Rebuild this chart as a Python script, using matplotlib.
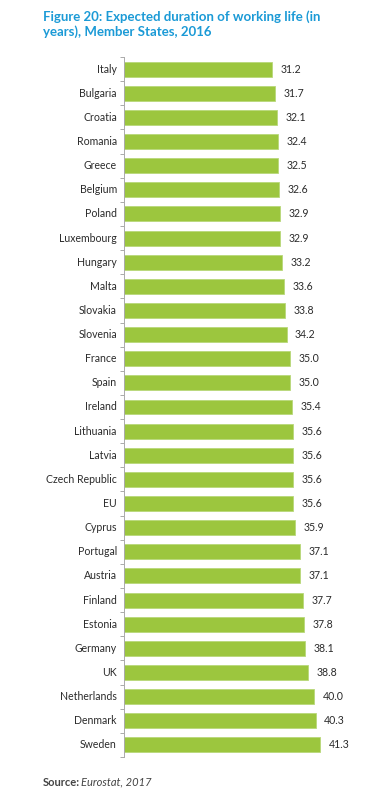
import matplotlib.pyplot as plt
import numpy as np

# data (top to bottom)
countries = ['Italy', 'Bulgaria', 'Croatia', 'Romania', 'Greece', 'Belgium',
             'Poland', 'Luxembourg', 'Hungary', 'Malta', 'Slovakia', 'Slovenia',
             'France', 'Spain', 'Ireland', 'Lithuania', 'Latvia', 'Czech Republic',
             'EU', 'Cyprus', 'Portugal', 'Austria', 'Finland', 'Estonia',
             'Germany', 'UK', 'Netherlands', 'Denmark', 'Sweden']
years = [31.2, 31.7, 32.1, 32.4, 32.5, 32.6, 32.9, 32.9, 33.2, 33.6, 33.8, 34.2,
         35.0, 35.0, 35.4, 35.6, 35.6, 35.6, 35.6, 35.9, 37.1, 37.1, 37.7, 37.8,
         38.1, 38.8, 40.0, 40.3, 41.3]

plt.rcParams['font.family'] = ['Lato', 'DejaVu Sans']

fig = plt.figure(figsize=(3.87, 8.06), dpi=100)
ax = fig.add_axes([124 / 387, 1 - 757 / 806, 230 / 387, 700 / 806])

pos = np.arange(len(countries))
ax.barh(pos, years, height=0.62, color='#9cc63e', edgecolor='#b8d87a', linewidth=0.6)

for p, v in zip(pos, years):
    ax.text(v + 1.8, p, f'{v:.1f}', va='center', ha='left', fontsize=7.6, color='#2b2b2b')

ax.set_ylim(len(countries) - 0.5, -0.5)
ax.set_xlim(0, 48.4)

# labels as text, tick marks at the category boundaries
ax.set_yticks(np.arange(len(countries) + 1) - 0.5)
ax.set_yticklabels([])
ax.tick_params(axis='y', length=3, width=0.7, color='#aaaaaa')
for p, c in zip(pos, countries):
    ax.text(-1.5, p, c, va='center', ha='right', fontsize=7.6, color='#2b2b2b')

ax.set_xticks([])
for s in ['top', 'right', 'bottom']:
    ax.spines[s].set_visible(False)
ax.spines['left'].set_color('#aaaaaa')
ax.spines['left'].set_linewidth(0.7)

fig.text(43 / 387, 1 - 10 / 806, 'Figure 20: Expected duration of working life (in\nyears), Member States, 2016',
         ha='left', va='top', fontsize=9.5, fontweight='bold', color='#1b9ad6', linespacing=1.25)

fig.text(43 / 387, 1 - 782 / 806, 'Source:', ha='left', va='center', fontsize=8,
         fontweight='bold', color='#444444')
fig.text(81 / 387, 1 - 782 / 806, 'Eurostat, 2017', ha='left', va='center', fontsize=8,
         style='italic', color='#444444')

plt.savefig('out.png', dpi=100)
